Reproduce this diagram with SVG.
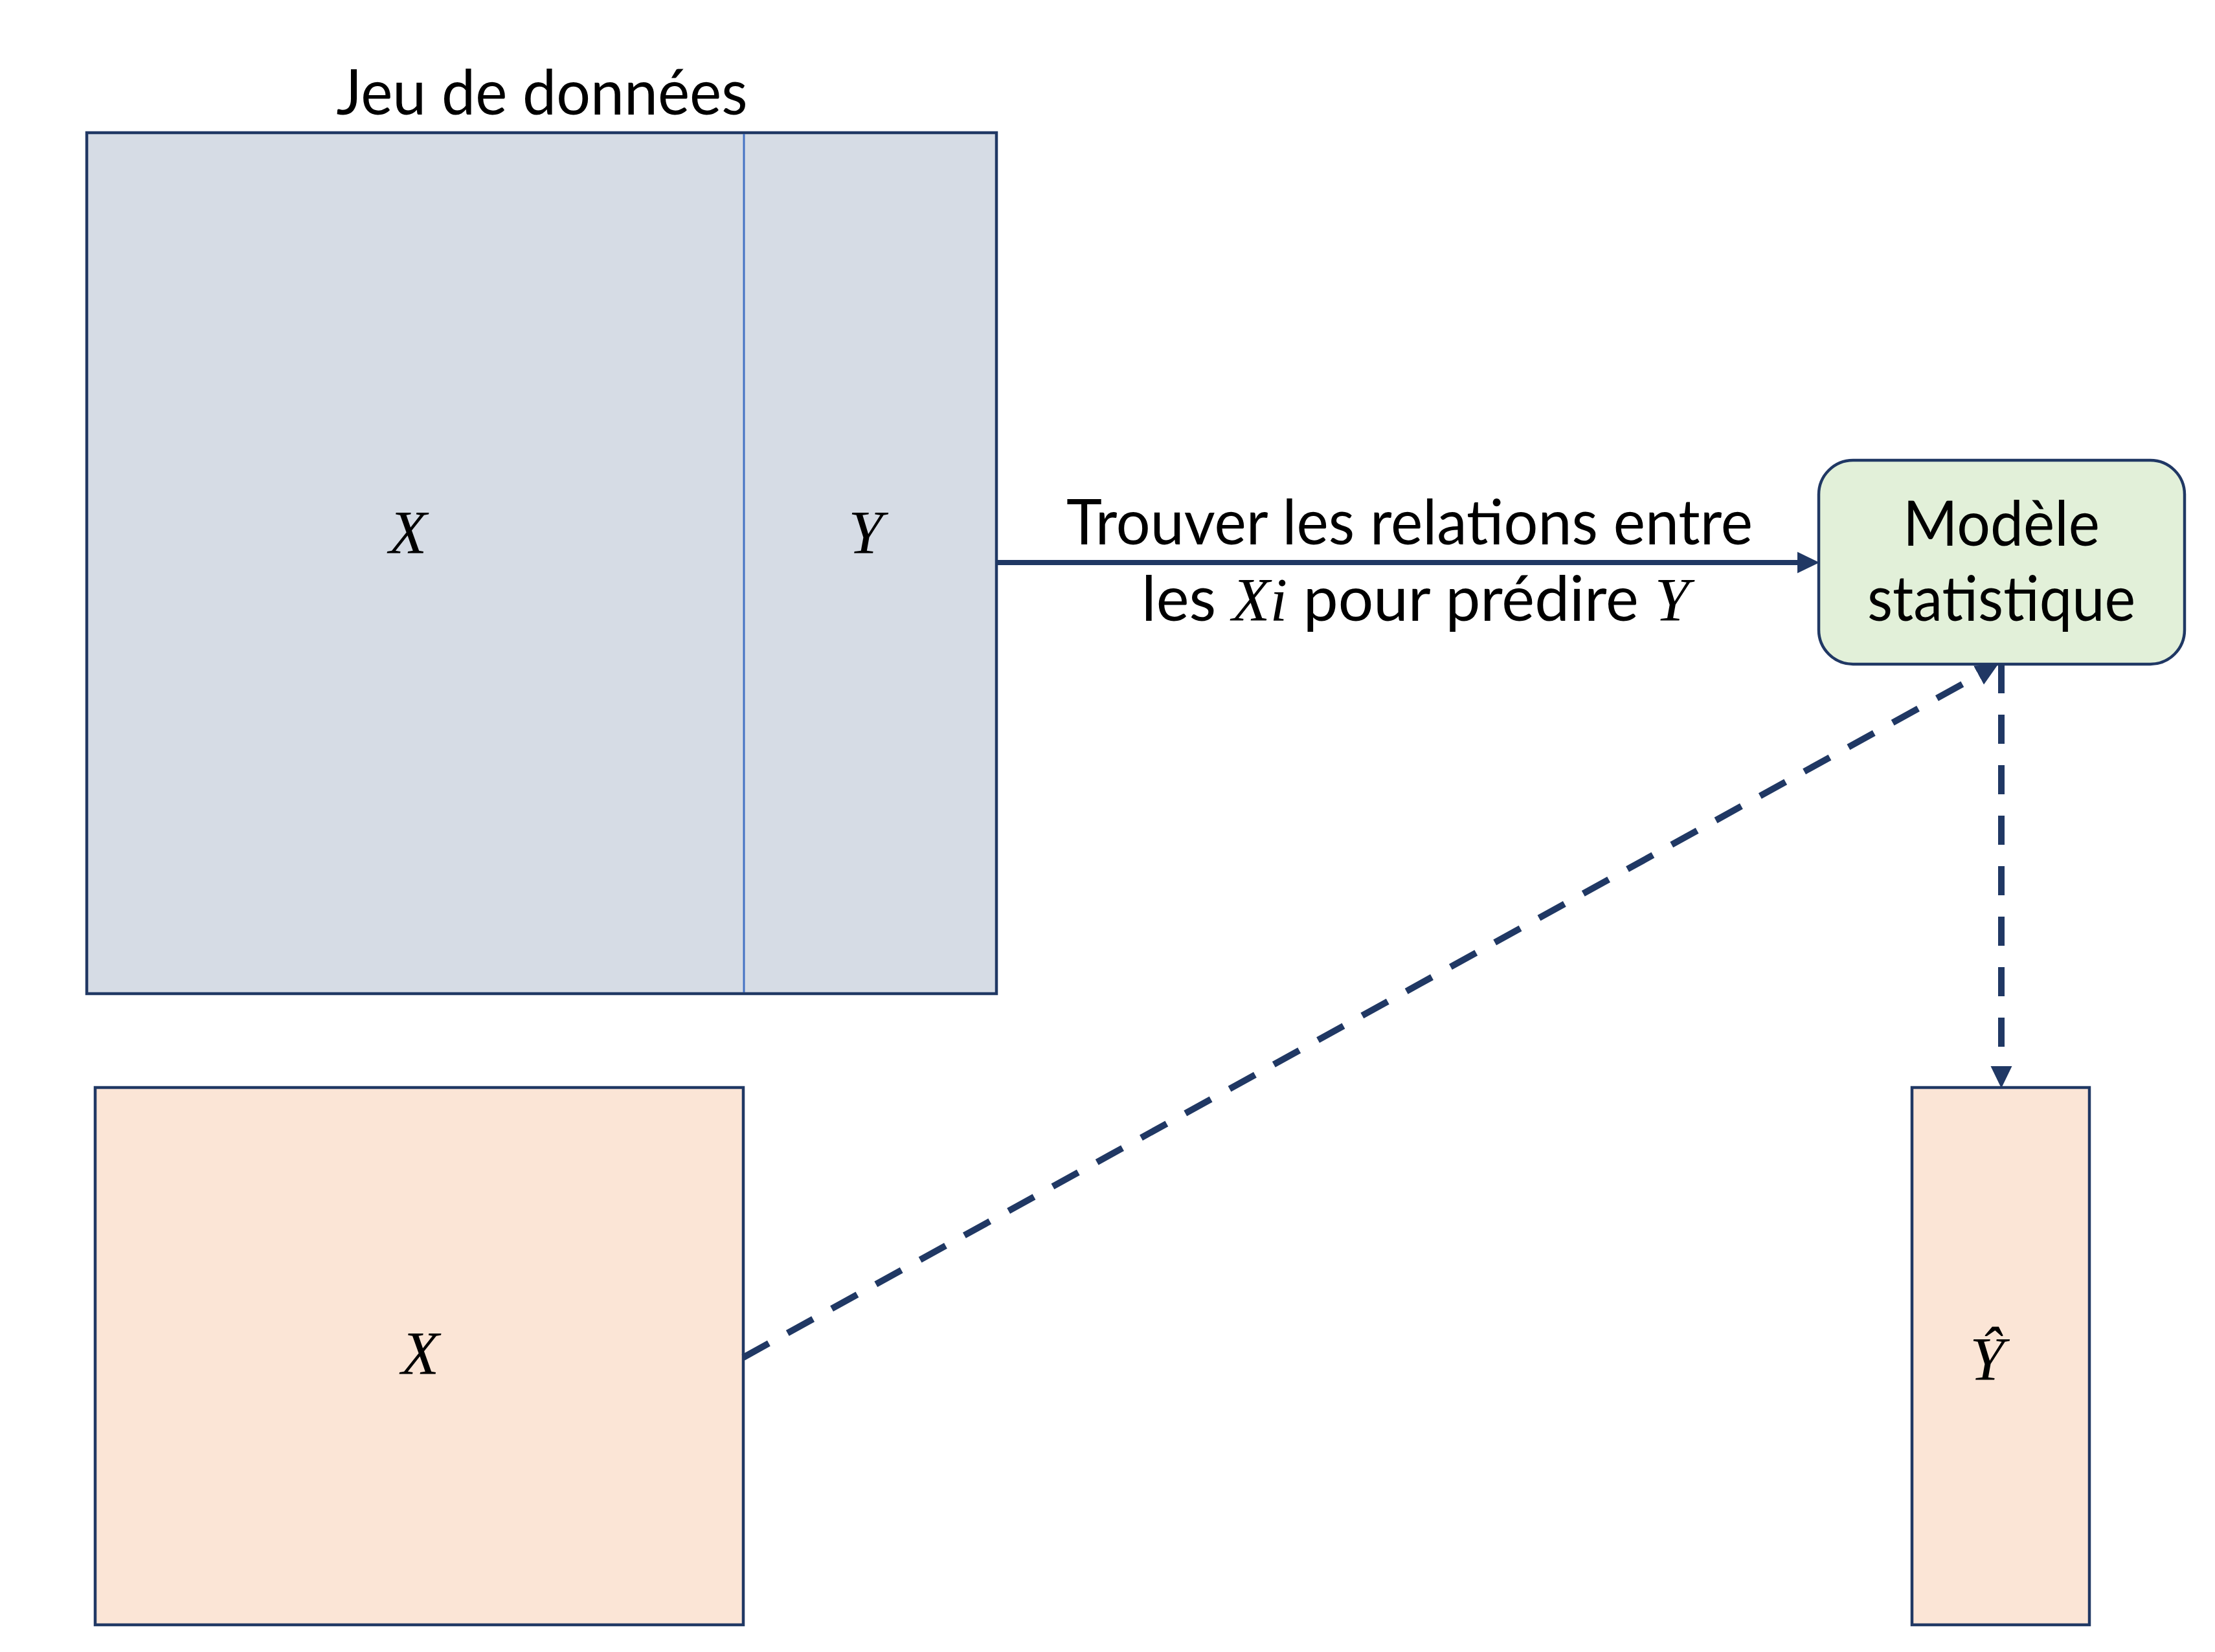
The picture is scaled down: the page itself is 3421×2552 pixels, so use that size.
<svg xmlns="http://www.w3.org/2000/svg" width="3421" height="2552" viewBox="0 0 3421 2552">
  <style>
    .box { stroke: #203864; stroke-width: 4.5; }
    .data { fill: #D6DCE5; }
    .test { fill: #FBE5D6; }
    .model { fill: #E2F0D9; }
    .txt { font-family: Lato, "Open Sans", "Liberation Sans", sans-serif; font-size: 96px; fill: #000; text-anchor: middle; }
    .math { font-family: "Liberation Serif", "DejaVu Serif", serif; font-style: italic; font-size: 96px; fill: #000; }
    .conn { stroke: #203864; fill: none; }
    .solid { stroke-width: 8; }
    .dash { stroke-width: 10; stroke-dasharray: 45 33; }
  </style>
  <defs>
    <marker id="arrow" markerUnits="userSpaceOnUse" markerWidth="34" markerHeight="34" refX="0" refY="16" orient="auto" viewBox="0 0 33 32">
      <path d="M0,0 L33,16 L0,32 Z" fill="#203864"/>
    </marker>
  </defs>
  <rect width="3421" height="2552" fill="#FFFFFF"/>

  <g id="dataset">
    <text class="txt" x="837" y="177" textLength="635" lengthAdjust="spacingAndGlyphs">Jeu de données</text>
    <rect class="box data" x="134" y="205" width="1405" height="1330"/>
    <line x1="1149" y1="207" x2="1149" y2="1533" stroke="#4472C4" stroke-width="3"/>
    <text class="math" x="630" y="855" text-anchor="middle">X</text>
    <text class="math" x="1337" y="855" text-anchor="middle">Y</text>
  </g>

  <g id="model">
    <rect class="box model" x="2809" y="711" width="565" height="315" rx="53" ry="53"/>
    <text class="txt" x="3091" y="843" textLength="304" lengthAdjust="spacingAndGlyphs">Modèle</text>
    <text class="txt" x="3091" y="959" textLength="414" lengthAdjust="spacingAndGlyphs">statistique</text>
  </g>

  <g id="newX">
    <rect class="box test" x="147" y="1680" width="1001" height="830"/>
    <text class="math" x="649" y="2123" text-anchor="middle">X</text>
  </g>

  <g id="predY">
    <rect class="box test" x="2953" y="1680" width="274" height="830"/>
    <text class="math" x="3069" y="2132" text-anchor="middle">Ŷ</text>
  </g>

  <g id="connectors">
    <line class="conn solid" x1="1539" y1="869" x2="2776" y2="869" marker-end="url(#arrow)"/>
    <text class="txt" x="2177" y="841" textLength="1060" lengthAdjust="spacingAndGlyphs">Trouver les relations entre</text>
    <text class="txt" x="2186" y="959" textLength="846" lengthAdjust="spacingAndGlyphs">les <tspan class="math">Xi</tspan> pour prédire <tspan class="math">Y</tspan></text>
    <line class="conn dash" x1="3091" y1="1026" x2="3091" y2="1647" marker-end="url(#arrow)"/>
    <line class="conn dash" x1="1148" y1="2097" x2="3056" y2="1043" marker-end="url(#arrow)"/>
  </g>
</svg>
